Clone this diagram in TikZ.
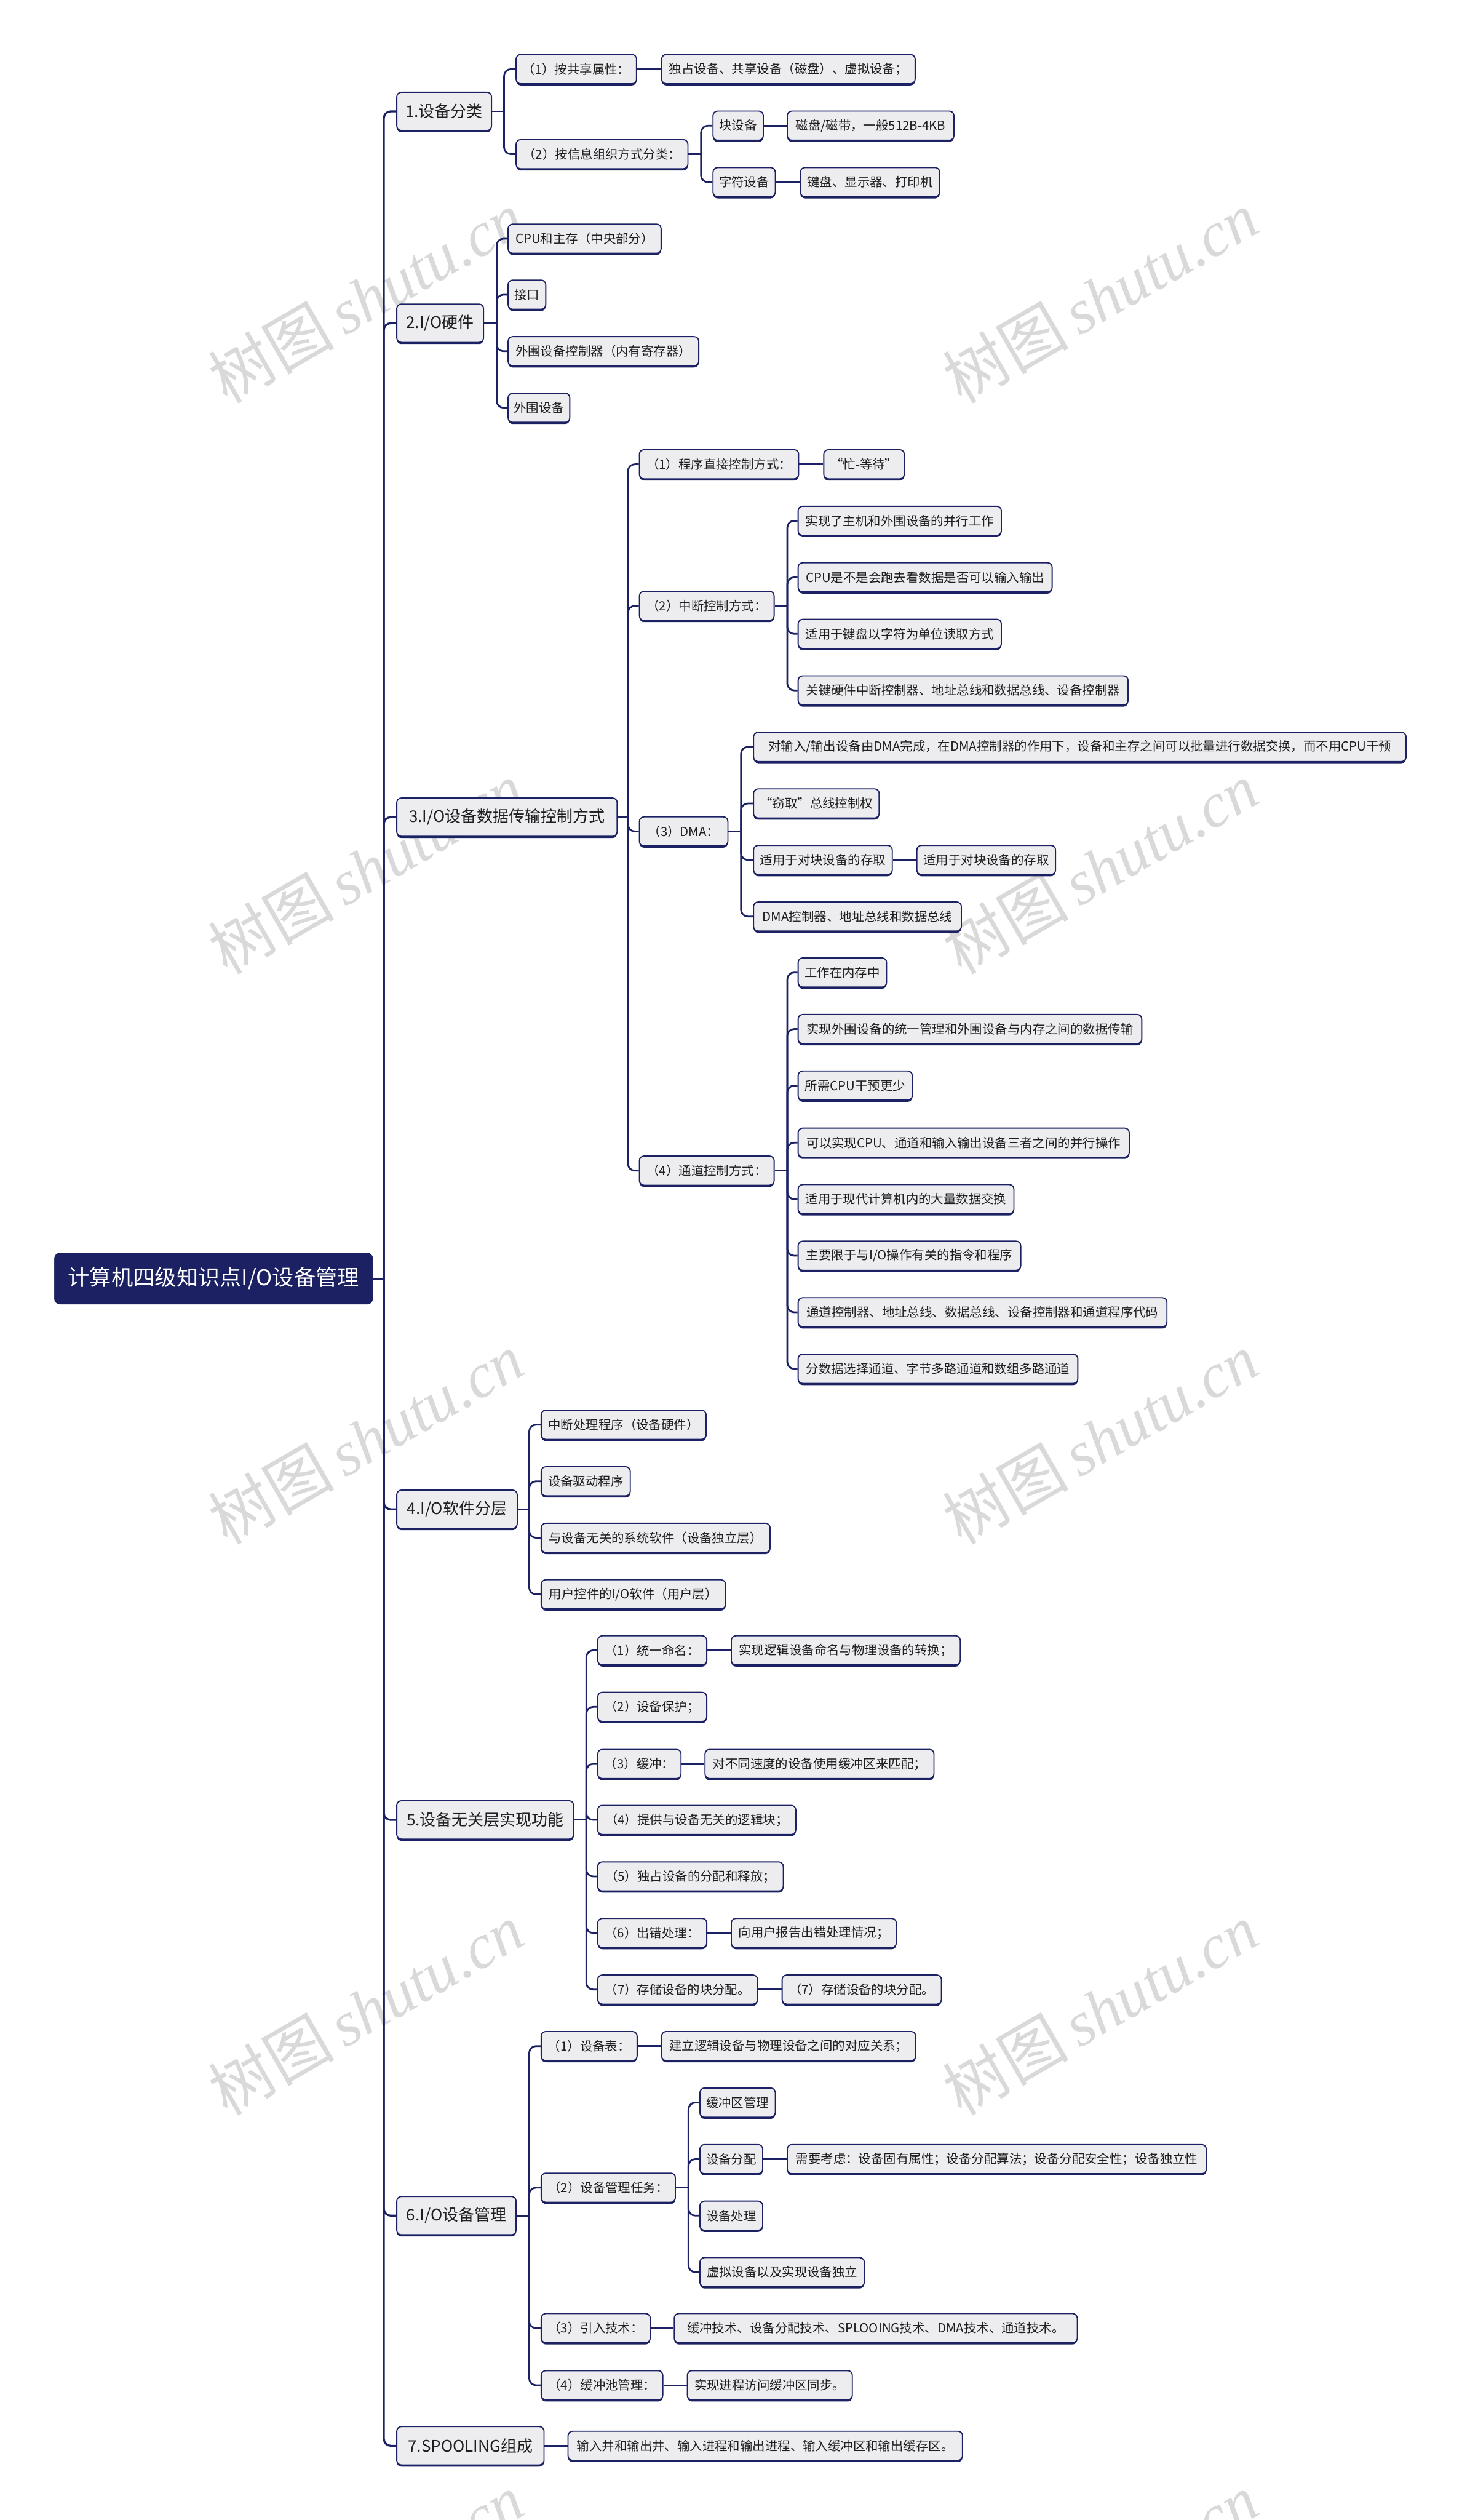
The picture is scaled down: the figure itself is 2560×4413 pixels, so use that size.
\documentclass[tikz,border=0pt]{standalone}
\usepackage{fontspec}
\setmainfont{Noto Sans CJK SC}
\newfontfamily\wmlatin{Liberation Serif}
\definecolor{navy}{HTML}{1C2163}
\definecolor{boxfill}{HTML}{EDEDF0}
\definecolor{txt}{HTML}{1E1E1E}
\definecolor{wmgray}{HTML}{D9D9D9}
\begin{document}
\begin{tikzpicture}[x=1pt,y=-1pt,
  box/.style={draw=navy, line width=2pt, fill=boxfill, rounded corners=8pt,
    minimum height=51pt, inner xsep=0pt, inner ysep=0pt, anchor=west, text=txt,
    font=\fontsize{22}{26}\selectfont,
    preaction={fill=navy, transform canvas={yshift=-3pt}}},
  topic/.style={box, minimum height=67pt, font=\fontsize{28}{32}\selectfont},
  rootbox/.style={fill=navy, draw=navy, rounded corners=10pt, minimum height=90pt,
    inner sep=0pt, anchor=west, text=white, font=\fontsize{38}{44}\selectfont},
  link/.style={draw=navy, line width=3pt},
  trunk/.style={draw=navy, line width=3.5pt},
  wm/.style={text=wmgray, rotate=30, font=\fontsize{110}{120}\selectfont}
]
\useasboundingbox (0,0) rectangle (2560,4413);
\fill[white] (0,0) rectangle (2560,4413);

% watermarks
\foreach \wx in {641,1927}{
  \foreach \wy in {520,1520,2519,3518,4517}{
    \node[wm] (wm-\wx-\wy) at (\wx,\wy) {树图\,{\wmlatin\itshape shutu.cn}};
  }
}

% root and topics
\node[rootbox, minimum width=558pt] (root) at (95,2239) {计算机四级知识点I/O设备管理};
\node[topic, minimum width=166pt] (L1) at (694,195) {1.设备分类};
\node[topic, minimum width=152pt] (L2) at (694,566) {2.I/O硬件};
\node[topic, minimum width=386pt] (L3) at (694,1431) {3.I/O设备数据传输控制方式};
\node[topic, minimum width=211pt] (L4) at (694,2643) {4.I/O软件分层};
\node[topic, minimum width=310pt] (L5) at (694,3187) {5.设备无关层实现功能};
\node[topic, minimum width=209pt] (L6) at (694,3880) {6.I/O设备管理};
\node[topic, minimum width=258pt] (L7) at (694,4283) {7.SPOOLING组成};

% section 1
\node[box, minimum width=211pt] (a1) at (903,121) {（1）按共享属性：};
\node[box, minimum width=444pt] (a1x) at (1158,121) {独占设备、共享设备（磁盘）、虚拟设备；};
\node[box, minimum width=301pt] (a2) at (903,270) {（2）按信息组织方式分类：};
\node[box, minimum width=88pt] (a2a) at (1248,220) {块设备};
\node[box, minimum width=292pt] (a2ax) at (1378,220) {磁盘/磁带，一般512B-4KB};
\node[box, minimum width=109pt] (a2b) at (1248,319) {字符设备};
\node[box, minimum width=244pt] (a2bx) at (1401,319) {键盘、显示器、打印机};

% section 2
\node[box, minimum width=268pt] (h1) at (889,418) {CPU和主存（中央部分）};
\node[box, minimum width=66pt] (h2) at (889,516) {接口};
\node[box, minimum width=334pt] (h3) at (889,615) {外围设备控制器（内有寄存器）};
\node[box, minimum width=108pt] (h4) at (889,714) {外围设备};

% section 3
\node[box, minimum width=279pt] (p1) at (1119,813) {（1）程序直接控制方式：};
\node[box, minimum width=141pt] (p1x) at (1442,813) {“忙-等待”};
\node[box, minimum width=236pt] (p2) at (1119,1061) {（2）中断控制方式：};
\node[box, minimum width=356pt] (p2a) at (1397,912) {实现了主机和外围设备的并行工作};
\node[box, minimum width=445pt] (p2b) at (1397,1011) {CPU是不是会跑去看数据是否可以输入输出};
\node[box, minimum width=356pt] (p2c) at (1397,1110) {适用于键盘以字符为单位读取方式};
\node[box, minimum width=578pt] (p2d) at (1397,1209) {关键硬件中断控制器、地址总线和数据总线、设备控制器};
\node[box, minimum width=155pt] (p3) at (1119,1456) {（3）DMA：};
\node[box, minimum width=1143pt] (p3a) at (1319,1308) {对输入/输出设备由DMA完成，在DMA控制器的作用下，设备和主存之间可以批量进行数据交换，而不用CPU干预};
\node[box, minimum width=220pt] (p3b) at (1319,1407) {“窃取”总线控制权};
\node[box, minimum width=243pt] (p3c) at (1319,1506) {适用于对块设备的存取};
\node[box, minimum width=243pt] (p3cx) at (1605,1506) {适用于对块设备的存取};
\node[box, minimum width=364pt] (p3d) at (1319,1605) {DMA控制器、地址总线和数据总线};
\node[box, minimum width=236pt] (p4) at (1119,2050) {（4）通道控制方式：};
\node[box, minimum width=155pt] (p4a) at (1397,1703) {工作在内存中};
\node[box, minimum width=602pt] (p4b) at (1397,1802) {实现外围设备的统一管理和外围设备与内存之间的数据传输};
\node[box, minimum width=200pt] (p4c) at (1397,1901) {所需CPU干预更少};
\node[box, minimum width=580pt] (p4d) at (1397,2001) {可以实现CPU、通道和输入输出设备三者之间的并行操作};
\node[box, minimum width=378pt] (p4e) at (1397,2100) {适用于现代计算机内的大量数据交换};
\node[box, minimum width=390pt] (p4f) at (1397,2199) {主要限于与I/O操作有关的指令和程序};
\node[box, minimum width=646pt] (p4g) at (1397,2298) {通道控制器、地址总线、数据总线、设备控制器和通道程序代码};
\node[box, minimum width=490pt] (p4h) at (1397,2397) {分数据选择通道、字节多路通道和数组多路通道};

% section 4
\node[box, minimum width=289pt] (s1) at (947,2495) {中断处理程序（设备硬件）};
\node[box, minimum width=156pt] (s2) at (947,2594) {设备驱动程序};
\node[box, minimum width=401pt] (s3) at (947,2693) {与设备无关的系统软件（设备独立层）};
\node[box, minimum width=323pt] (s4) at (947,2792) {用户控件的I/O软件（用户层）};

% section 5
\node[box, minimum width=191pt] (f1) at (1046,2890) {（1）统一命名：};
\node[box, minimum width=401pt] (f1x) at (1280,2890) {实现逻辑设备命名与物理设备的转换；};
\node[box, minimum width=191pt] (f2) at (1046,2989) {（2）设备保护；};
\node[box, minimum width=146pt] (f3) at (1046,3089) {（3）缓冲：};
\node[box, minimum width=401pt] (f3x) at (1234,3089) {对不同速度的设备使用缓冲区来匹配；};
\node[box, minimum width=347pt] (f4) at (1046,3187) {（4）提供与设备无关的逻辑块；};
\node[box, minimum width=325pt] (f5) at (1046,3286) {（5）独占设备的分配和释放；};
\node[box, minimum width=191pt] (f6) at (1046,3385) {（6）出错处理：};
\node[box, minimum width=289pt] (f6x) at (1280,3385) {向用户报告出错处理情况；};
\node[box, minimum width=280pt] (f7) at (1046,3484) {（7）存储设备的块分配。};
\node[box, minimum width=279pt] (f7x) at (1369,3484) {（7）存储设备的块分配。};

% section 6
\node[box, minimum width=168pt] (m1) at (947,3583) {（1）设备表：};
\node[box, minimum width=445pt] (m1x) at (1158,3583) {建立逻辑设备与物理设备之间的对应关系；};
\node[box, minimum width=235pt] (m2) at (947,3831) {（2）设备管理任务：};
\node[box, minimum width=132pt] (m2a) at (1225,3682) {缓冲区管理};
\node[box, minimum width=110pt] (m2b) at (1225,3781) {设备分配};
\node[box, minimum width=734pt] (m2bx) at (1378,3781) {需要考虑：设备固有属性；设备分配算法；设备分配安全性；设备独立性};
\node[box, minimum width=110pt] (m2c) at (1225,3880) {设备处理};
\node[box, minimum width=288pt] (m2d) at (1225,3979) {虚拟设备以及实现设备独立};
\node[box, minimum width=191pt] (m3) at (947,4077) {（3）引入技术：};
\node[box, minimum width=706pt] (m3x) at (1180,4077) {缓冲技术、设备分配技术、SPLOOING技术、DMA技术、通道技术。};
\node[box, minimum width=213pt] (m4) at (947,4177) {（4）缓冲池管理：};
\node[box, minimum width=289pt] (m4x) at (1203,4177) {实现进程访问缓冲区同步。};

% section 7
\node[box, minimum width=691pt] (spx) at (994,4283) {输入井和输出井、输入进程和输出进程、输入缓冲区和输出缓存区。};

% connectors
\draw[trunk] (root.east) -- ++(19,0) coordinate (root-b);
\foreach \c in {L1,L2,L3,L4,L5,L6,L7}{\draw[trunk, rounded corners=12pt] (root-b) |- (\c.west);}

\draw[link] (L1.east) -- ++(21,0) coordinate (L1-b);
\foreach \c in {a1,a2}{\draw[link, rounded corners=12pt] (L1-b) |- (\c.west);}
\draw[link] (a1.east) -- (a1x.west);
\draw[link] (a2.east) -- ++(22,0) coordinate (a2-b);
\foreach \c in {a2a,a2b}{\draw[link, rounded corners=12pt] (a2-b) |- (\c.west);}
\draw[link] (a2a.east) -- (a2ax.west);
\draw[link] (a2b.east) -- (a2bx.west);

\draw[link] (L2.east) -- ++(22,0) coordinate (L2-b);
\foreach \c in {h1,h2,h3,h4}{\draw[link, rounded corners=12pt] (L2-b) |- (\c.west);}

\draw[link] (L3.east) -- ++(18,0) coordinate (L3-b);
\foreach \c in {p1,p2,p3,p4}{\draw[link, rounded corners=12pt] (L3-b) |- (\c.west);}
\draw[link] (p1.east) -- (p1x.west);
\draw[link] (p2.east) -- ++(22,0) coordinate (p2-b);
\foreach \c in {p2a,p2b,p2c,p2d}{\draw[link, rounded corners=12pt] (p2-b) |- (\c.west);}
\draw[link] (p3.east) -- ++(22,0) coordinate (p3-b);
\foreach \c in {p3a,p3b,p3c,p3d}{\draw[link, rounded corners=12pt] (p3-b) |- (\c.west);}
\draw[link] (p3c.east) -- (p3cx.west);
\draw[link] (p4.east) -- ++(22,0) coordinate (p4-b);
\foreach \c in {p4a,p4b,p4c,p4d,p4e,p4f,p4g,p4h}{\draw[link, rounded corners=12pt] (p4-b) |- (\c.west);}

\draw[link] (L4.east) -- ++(20,0) coordinate (L4-b);
\foreach \c in {s1,s2,s3,s4}{\draw[link, rounded corners=12pt] (L4-b) |- (\c.west);}

\draw[link] (L5.east) -- ++(21,0) coordinate (L5-b);
\foreach \c in {f1,f2,f3,f4,f5,f6,f7}{\draw[link, rounded corners=12pt] (L5-b) |- (\c.west);}
\draw[link] (f1.east) -- (f1x.west);
\draw[link] (f3.east) -- (f3x.west);
\draw[link] (f6.east) -- (f6x.west);
\draw[link] (f7.east) -- (f7x.west);

\draw[link] (L6.east) -- ++(22,0) coordinate (L6-b);
\foreach \c in {m1,m2,m3,m4}{\draw[link, rounded corners=12pt] (L6-b) |- (\c.west);}
\draw[link] (m1.east) -- (m1x.west);
\draw[link] (m2.east) -- ++(22,0) coordinate (m2-b);
\foreach \c in {m2a,m2b,m2c,m2d}{\draw[link, rounded corners=12pt] (m2-b) |- (\c.west);}
\draw[link] (m2b.east) -- (m2bx.west);
\draw[link] (m3.east) -- (m3x.west);
\draw[link] (m4.east) -- (m4x.west);

\draw[link] (L7.east) -- (spx.west);
\end{tikzpicture}
\end{document}
